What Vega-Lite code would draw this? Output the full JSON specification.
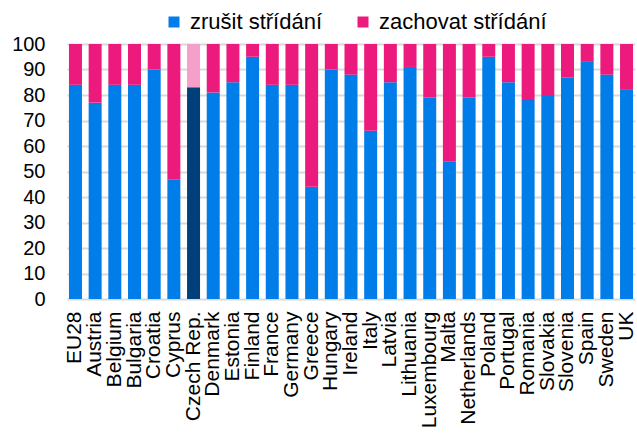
{
  "$schema": "https://vega.github.io/schema/vega-lite/v6.json",
  "autosize": "none",
  "width": 568,
  "height": 255,
  "padding": {"left": 67, "top": 44, "right": 2, "bottom": 135},
  "background": "white",
  "config": {"font": "Liberation Sans", "view": {"stroke": null}},
  "data": {"values": [
    {"country": "EU28", "zrusit": 84, "zachovat": 16},
    {"country": "Austria", "zrusit": 77, "zachovat": 23},
    {"country": "Belgium", "zrusit": 84, "zachovat": 16},
    {"country": "Bulgaria", "zrusit": 84, "zachovat": 16},
    {"country": "Croatia", "zrusit": 90, "zachovat": 10},
    {"country": "Cyprus", "zrusit": 47, "zachovat": 53},
    {"country": "Czech Rep.", "zrusit": 83, "zachovat": 17},
    {"country": "Denmark", "zrusit": 81, "zachovat": 19},
    {"country": "Estonia", "zrusit": 85, "zachovat": 15},
    {"country": "Finland", "zrusit": 95, "zachovat": 5},
    {"country": "France", "zrusit": 84, "zachovat": 16},
    {"country": "Germany", "zrusit": 84, "zachovat": 16},
    {"country": "Greece", "zrusit": 44, "zachovat": 56},
    {"country": "Hungary", "zrusit": 90, "zachovat": 10},
    {"country": "Ireland", "zrusit": 88, "zachovat": 12},
    {"country": "Italy", "zrusit": 66, "zachovat": 34},
    {"country": "Latvia", "zrusit": 85, "zachovat": 15},
    {"country": "Lithuania", "zrusit": 91, "zachovat": 9},
    {"country": "Luxembourg", "zrusit": 79, "zachovat": 21},
    {"country": "Malta", "zrusit": 54, "zachovat": 46},
    {"country": "Netherlands", "zrusit": 79, "zachovat": 21},
    {"country": "Poland", "zrusit": 95, "zachovat": 5},
    {"country": "Portugal", "zrusit": 85, "zachovat": 15},
    {"country": "Romania", "zrusit": 78, "zachovat": 22},
    {"country": "Slovakia", "zrusit": 80, "zachovat": 20},
    {"country": "Slovenia", "zrusit": 87, "zachovat": 13},
    {"country": "Spain", "zrusit": 93, "zachovat": 7},
    {"country": "Sweden", "zrusit": 88, "zachovat": 12},
    {"country": "UK", "zrusit": 82, "zachovat": 18}
  ]},
  "transform": [
    {"fold": ["zrusit", "zachovat"], "as": ["s", "value"]},
    {"calculate": "datum.s === 'zrusit' ? 'zrušit střídání' : 'zachovat střídání'", "as": "series"},
    {"calculate": "datum.country === 'Czech Rep.' ? datum.series + ' CZ' : datum.series", "as": "key"},
    {"calculate": "datum.s === 'zrusit' ? 0 : 1", "as": "ord"}
  ],
  "mark": {"type": "bar"},
  "encoding": {
    "x": {
      "field": "country", "type": "nominal", "sort": null,
      "scale": {"paddingInner": 0.34, "paddingOuter": 0.1},
      "axis": {"title": null, "labelAngle": -90, "labelAlign": "right", "labelBaseline": "middle",
               "labelFontSize": 21, "labelColor": "#000", "ticks": false, "domain": false, "labelPadding": 12,
               "labelLimit": 300, "labelOverlap": false}
    },
    "y": {
      "field": "value", "type": "quantitative", "stack": "zero",
      "scale": {"domain": [0, 100], "nice": false},
      "axis": {"title": null, "values": [0,10,20,30,40,50,60,70,80,90,100], "labelFontSize": 20,
               "labelColor": "#000", "ticks": false, "domain": false, "labelPadding": 22,
               "gridColor": "#d9d9d9", "gridWidth": 2}
    },
    "order": {"field": "ord"},
    "color": {
      "field": "key", "type": "nominal",
      "scale": {
        "domain": ["zrušit střídání", "zachovat střídání", "zrušit střídání CZ", "zachovat střídání CZ"],
        "range": ["#007de8", "#ec1a7c", "#003f7a", "#f5a0c8"]
      },
      "legend": {
        "title": null, "values": ["zrušit střídání", "zachovat střídání"],
        "orient": "none", "legendX": 96, "legendY": -33, "direction": "horizontal",
        "symbolType": "square", "symbolSize": 121, "symbolStrokeWidth": 0,
        "labelFontSize": 22, "labelColor": "#000", "labelOffset": 5, "columnPadding": 29,
        "labelLimit": 300
      }
    }
  }
}
